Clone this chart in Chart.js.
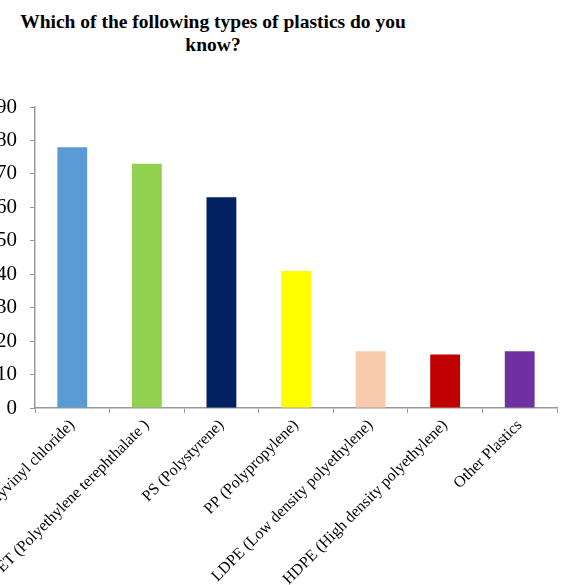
<!DOCTYPE html>
<html lang="en">
<head>
  <meta charset="UTF-8">
  <title>Plastics</title>
  <style>
    html, body {
      margin: 0;
      padding: 0;
      background: #ffffff;
      overflow: hidden;
      width: 562px;
      height: 585px;
    }
    #title {
      position: absolute;
      left: 0;
      top: 10px;
      width: 426px;
      text-align: center;
      font-family: "Liberation Serif", "Times New Roman", serif;
      font-weight: bold;
      font-size: 19.5px;
      line-height: 23px;
      color: #000;
    }
    #box {
      position: absolute;
      left: 0;
      top: 90px;
      width: 562px;
      height: 521px;
    }
  </style>
  <script src="https://cdn.jsdelivr.net/npm/chart.js@4.4.0/dist/chart.umd.min.js"></script>
</head>
<body>
  <div id="title">Which of the following types of plastics do you<br>know?</div>
  <div id="box">
    <canvas id="myChart"></canvas>
  </div>

<script>
var labels = [
  'PVC (Polyvinyl chloride)',
  'PET (Polyethylene terephthalate )',
  'PS (Polystyrene)',
  'PP (Polypropylene)',
  'LDPE (Low density polyethylene)',
  'HDPE (High density polyethylene)',
  'Other Plastics'
];
var values = [78, 73, 63, 41, 17, 16, 17];
var colors = ['#5B9BD5', '#92D050', '#002060', '#FFFF00', '#F8CBAD', '#C00000', '#7030A0'];
var yTicks = [0, 10, 20, 30, 40, 50, 60, 70, 80, 90];

var serif = '"Liberation Serif", "Times New Roman", serif';
var axisGray = '#9a9a9a';

var ctx = document.getElementById('myChart').getContext('2d');
var chart = new Chart(ctx, {
  type: 'bar',
  data: {
    labels: labels,
    datasets: [{
      data: values,
      backgroundColor: colors,
      borderWidth: 0,
      barPercentage: 0.4,
      categoryPercentage: 1.0
    }]
  },
  options: {
    responsive: true,
    maintainAspectRatio: false,
    animation: false,
    layout: { padding: { top: 17, right: 5, left: 0, bottom: 0 } },
    plugins: {
      legend: { display: false },
      title: { display: false },
      tooltip: { enabled: false }
    },
    scales: {
      x: {
        grid: {
          display: true,
          drawOnChartArea: false,
          drawTicks: true,
          tickLength: 5,
          color: axisGray,
          offset: true
        },
        border: { color: axisGray, width: 1.5 },
        ticks: {
          color: '#000',
          font: { family: serif, size: 16 },
          minRotation: 45,
          maxRotation: 45,
          autoSkip: false,
          padding: 3
        },
        // fixed height, and no extra room for the long rotated labels
        afterFit: function(scale) {
          scale.height = 203;
          scale.paddingLeft = 0;
          scale.paddingRight = 0;
        }
      },
      y: {
        min: 0,
        max: 90,
        grid: {
          display: true,
          drawOnChartArea: false,
          drawTicks: true,
          tickLength: 5,
          color: axisGray
        },
        border: { color: axisGray, width: 1.5 },
        afterBuildTicks: function(scale) {
          scale.ticks = yTicks.map(function(v) { return { value: v }; });
        },
        afterFit: function(scale) {
          scale.width = 35;
          scale.paddingTop = 0;
          scale.paddingBottom = 0;
        },
        ticks: {
          color: '#000',
          font: { family: serif, size: 21 },
          padding: 13
        }
      }
    }
  }
});
</script>
</body>
</html>
